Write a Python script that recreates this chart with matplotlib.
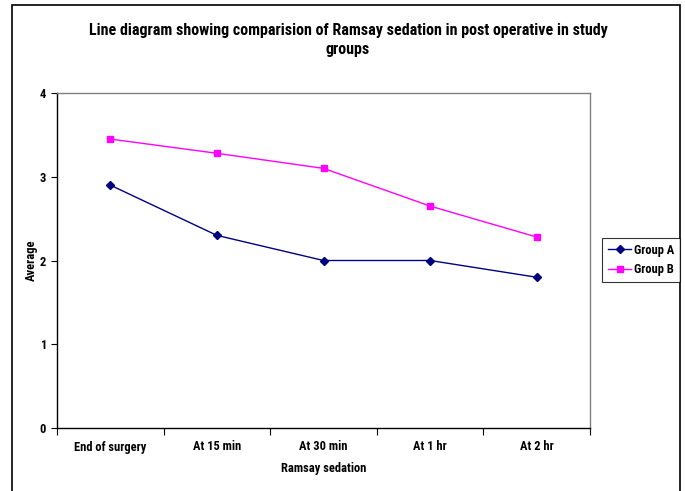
import matplotlib
matplotlib.use("Agg")
import matplotlib.pyplot as plt
from matplotlib.patches import Rectangle
from matplotlib import font_manager as fm

categories = ["End of surgery", "At 15 min", "At 30 min", "At 1 hr", "At 2 hr"]
group_a = [2.9, 2.3, 2.0, 2.0, 1.8]
group_b = [3.45, 3.28, 3.1, 2.65, 2.28]

names = {f.name for f in fm.fontManager.ttflist}
fam = None
stretch = "normal"
for c in ["Liberation Sans Narrow", "Arial Narrow", "Roboto Condensed", "Open Sans Condensed"]:
    if c in names:
        fam = c
        break
if fam is None:
    if any(f.name == "DejaVu Sans" and str(f.stretch) in ("condensed", "semi-condensed") for f in fm.fontManager.ttflist):
        fam = "DejaVu Sans"
        stretch = "condensed"
    else:
        fam = "Liberation Sans"
plt.rcParams['font.family'] = [fam, 'DejaVu Sans']
plt.rcParams['font.stretch'] = stretch
scale = 1.0 if fam != "Liberation Sans" else 0.8

fig = plt.figure(figsize=(6.85, 4.91), dpi=100)
ax = fig.add_axes([57/685, 1-428/491, (590-57)/685, (428-93)/491])

x = [i + 0.5 for i in range(len(categories))]
ax.plot(x, group_a, color="#000080", marker="D", markersize=4.5, linewidth=1, label="Group A")
ax.plot(x, group_b, color="#FF00FF", marker="s", markersize=4.5, linewidth=1, label="Group B")

ax.set_xlim(0, len(categories))
ax.set_ylim(0, 4)
ax.set_yticks([0, 1, 2, 3, 4])
ax.set_xticks(range(len(categories) + 1))
ax.set_xticklabels([])
ax.set_xticks(x, minor=True)
ax.set_xticklabels(categories, minor=True, fontsize=9 * scale, fontweight="bold")
ax.tick_params(axis="x", which="minor", length=0, pad=9)
ax.tick_params(axis="x", which="major", length=5, direction="out")
ax.tick_params(axis="y", length=4, labelsize=9 * scale, direction="out", pad=4)
for t in ax.get_yticklabels():
    t.set_fontweight("bold")

for s in ["top", "right"]:
    ax.spines[s].set_color("#808080")
for s in ["left", "bottom"]:
    ax.spines[s].set_color("black")
for s in ax.spines.values():
    s.set_linewidth(1)

ax.set_xlabel("Ramsay sedation", fontsize=9 * scale, fontweight="bold", labelpad=6)
ax.set_ylabel("Average", fontsize=9 * scale, fontweight="bold", labelpad=1.5)

fig.text(348/685, 1-40/491, "Line diagram showing comparision of Ramsay sedation in post operative in study\ngroups",
         ha="center", va="center", fontsize=11.5 * scale, fontweight="bold", linespacing=1.4)

leg = fig.legend(loc="upper left", bbox_to_anchor=(602/685, 1-238/491), fontsize=9 * scale,
                 frameon=True, fancybox=False, edgecolor="black", borderpad=0.45,
                 handlelength=1.9, handletextpad=0.2, labelspacing=0.55, borderaxespad=0)
leg.get_frame().set_linewidth(0.8)
for t in leg.get_texts():
    t.set_fontweight("bold")

fig.patches.append(Rectangle((12/685, -0.1), (680-12)/685, 1.1 - 5/491, transform=fig.transFigure,
                             fill=False, edgecolor="black", linewidth=1.2, clip_on=False))

fig.savefig("out.png", dpi=100)
